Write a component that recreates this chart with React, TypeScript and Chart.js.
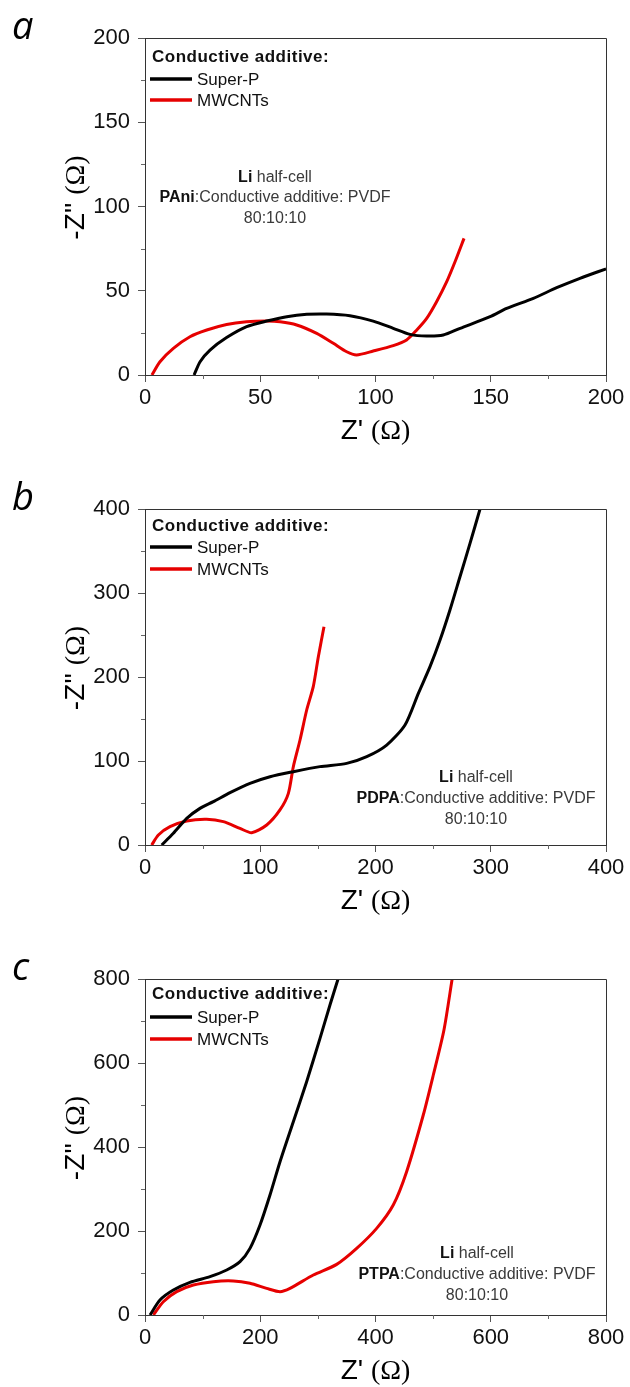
import React, { useEffect, useRef } from "react";
import { Chart, registerables } from "chart.js";
Chart.register(...registerables);

// ---------------- DATA ----------------
// Panel a: PAni
const aTicks = [0, 50, 100, 150, 200];
const aSuperPX = [21.3, 23.9, 28.2, 35.4, 44.1, 52.8, 61.5, 70.2, 78.8, 88.9, 99, 107.7, 115, 122.2, 129.4, 136.7, 149.7, 156.9, 168.5, 178.6, 188.7, 200];
const aSuperPY = [0, 7.9, 14.8, 22.2, 28.7, 32, 34.6, 36, 36.2, 35.2, 32, 27.7, 24.1, 23.1, 23.7, 27.7, 34.6, 39.5, 45.5, 51.8, 57.4, 63];
const aMwcntX = [3, 6.5, 12.3, 19.5, 26.8, 35.4, 44, 52.8, 58.6, 65.8, 74.5, 81.7, 87.5, 91.8, 99, 107.7, 113.5, 117.9, 122.2, 126.5, 130.9, 134.5, 138.4];
const aMwcntY = [0, 7.9, 15.8, 22.7, 26.7, 30, 31.6, 32, 31.6, 29.7, 24.7, 18.8, 13.8, 11.9, 14.2, 17.4, 20.8, 26.7, 33.6, 43.5, 55.4, 67.2, 81.1];

// Panel b: PDPA
const bTicks = [0, 100, 200, 300, 400];
const bSuperPX = [14.5, 24.6, 36.2, 47.7, 59.3, 73.8, 91.1, 108.5, 128.7, 151.8, 175, 192.4, 209.7, 225.6, 237.2, 247.3, 256, 264.6, 273.3, 282, 290.7];
const bSuperPY = [0, 13.9, 31.7, 43.6, 51.6, 62.3, 73.4, 81.3, 87.3, 93.3, 97.2, 105.2, 119, 142.9, 180.6, 212.3, 244, 279.8, 319.4, 359, 400];
const bMwcntX = [5.8, 11.6, 21.7, 36.2, 53.5, 68, 82.4, 92.6, 105.6, 117.1, 124.4, 128.7, 134.5, 140.3, 146, 150.4, 155.3];
const bMwcntY = [0, 11.9, 21.8, 28.6, 30.6, 27.8, 19.8, 14.7, 23.8, 41.7, 61.5, 93.2, 125, 160.7, 188.5, 224.2, 259.9];

// Panel c: PTPA
const cTicks = [0, 200, 400, 600, 800];
const cSuperPX = [8.7, 26, 49.2, 78.1, 112.8, 141.8, 164.9, 182.2, 199.6, 216.9, 234.3, 257.4, 280.5, 303.7, 321, 335];
const cSuperPY = [0, 35.7, 59.5, 77.8, 91.3, 107.1, 127, 158.7, 214.3, 285.7, 365, 460.3, 555.5, 658.7, 738, 800];
const cMwcntX = [14.5, 31.8, 55, 83.9, 118.6, 153.3, 182.2, 211.1, 234.3, 251.6, 292.1, 332.6, 367.3, 402, 430.8, 454, 482.9, 500.3, 518.8, 533];
const cMwcntY = [0, 31.7, 55.6, 71.4, 79.4, 81, 75.4, 63.5, 55.6, 63.5, 95.2, 120.6, 158.7, 206.3, 261.9, 341.3, 476.2, 571.4, 678.6, 800];

const seriesNames = ["Super-P", "MWCNTs"];
const legendTitle = "Conductive additive:";
const polymers = ["PAni", "PDPA", "PTPA"];
const panelLetters = ["a", "b", "c"];
const noteLine1 = ["Li", " half-cell"];
const noteLine2Rest = ":Conductive additive: PVDF";
const noteLine3 = "80:10:10";
const xTitle = ["Z' ", "(\u03A9)"];
const yTitle = ["-Z'' ", "(\u03A9)"];

// ---------------- STYLE ----------------
const SANS = "'Liberation Sans', Arial, sans-serif";
const SERIF = "'Liberation Serif', 'Times New Roman', serif";
const BLACK = "#000000";
const RED = "#e60000";

type PanelCfg = {
  letter: string;
  polymer: string;
  top: number;
  height: number;
  padTop: number;
  xAxisH: number;
  ticks: number[];
  sx: number[];
  sy: number[];
  mx: number[];
  my: number[];
  legendOff: number[];
  noteCx: number;
  noteOff: number[];
};

const zip = (xs: number[], ys: number[]) => xs.map((x, i) => ({ x, y: ys[i] }));

function drawMixed(ctx: CanvasRenderingContext2D, parts: [string, string, string][], x: number, y: number, align: "center" | "left") {
  let total = 0;
  const widths = parts.map(([t, f]) => {
    ctx.font = f;
    const w = ctx.measureText(t).width;
    total += w;
    return w;
  });
  let cx = align === "center" ? x - total / 2 : x;
  ctx.textAlign = "left";
  ctx.textBaseline = "alphabetic";
  parts.forEach(([t, f, c], i) => {
    ctx.font = f;
    ctx.fillStyle = c;
    ctx.fillText(t, cx, y);
    cx += widths[i];
  });
}

const decorPlugin = {
  id: "decor",
  afterDraw(chart: any) {
    const cfg: PanelCfg = chart.options.plugins.decor.cfg;
    const ctx: CanvasRenderingContext2D = chart.ctx;
    const { left, right, top, bottom } = chart.chartArea;
    const xs = chart.scales.x;
    const ys = chart.scales.y;
    ctx.save();
    // frame
    ctx.strokeStyle = "#333";
    ctx.lineWidth = 1;
    ctx.beginPath();
    ctx.moveTo(Math.round(left), Math.round(top) + 0.5);
    ctx.lineTo(Math.round(right) + 0.5, Math.round(top) + 0.5);
    ctx.lineTo(Math.round(right) + 0.5, Math.round(bottom));
    ctx.stroke();
    // minor ticks
    const t = cfg.ticks;
    const step = t[1] - t[0];
    ctx.strokeStyle = "#666";
    ctx.beginPath();
    for (let v = t[0] + step / 2; v < t[t.length - 1]; v += step) {
      const px = Math.round(xs.getPixelForValue(v)) + 0.5;
      ctx.moveTo(px, bottom);
      ctx.lineTo(px, bottom + 4);
      const py = Math.round(ys.getPixelForValue(v)) + 0.5;
      ctx.moveTo(left, py);
      ctx.lineTo(left - 4, py);
    }
    ctx.stroke();
    // panel letter
    ctx.fillStyle = "#000";
    ctx.font = `italic 38px 'Open Sans', sans-serif`;
    ctx.textAlign = "left";
    ctx.textBaseline = "alphabetic";
    ctx.fillText(cfg.letter, 12, top + 1);
    // axis titles
    drawMixed(ctx, [[xTitle[0], `28px ${SANS}`, "#000"], [xTitle[1], `28px ${SERIF}`, "#000"]], (left + right) / 2, bottom + 64, "center");
    ctx.save();
    ctx.translate(84, (top + bottom) / 2 - 9);
    ctx.rotate(-Math.PI / 2);
    drawMixed(ctx, [[yTitle[0], `28px ${SANS}`, "#000"], [yTitle[1], `28px ${SERIF}`, "#000"]], 0, 0, "center");
    ctx.restore();
    // legend
    const lo = cfg.legendOff;
    ctx.fillStyle = "#111";
    ctx.font = `bold 17px ${SANS}`;
    (ctx as any).letterSpacing = "0.5px";
    ctx.fillText(legendTitle, left + 7, top + lo[0]);
    (ctx as any).letterSpacing = "0px";
    const cols = [BLACK, RED];
    [lo[1], lo[2]].forEach((off, i) => {
      ctx.strokeStyle = cols[i];
      ctx.lineWidth = 3.5;
      ctx.beginPath();
      ctx.moveTo(left + 5, top + off);
      ctx.lineTo(left + 47, top + off);
      ctx.stroke();
      ctx.fillStyle = "#111";
      ctx.font = `17px ${SANS}`;
      ctx.fillText(seriesNames[i], left + 52, top + off + 6);
    });
    // note
    const no = cfg.noteOff;
    const grey = "#3a3a3a";
    drawMixed(ctx, [[noteLine1[0], `bold 16px ${SANS}`, "#111"], [noteLine1[1], `16px ${SANS}`, grey]], cfg.noteCx, top + no[0], "center");
    drawMixed(ctx, [[cfg.polymer, `bold 16px ${SANS}`, "#111"], [noteLine2Rest, `16px ${SANS}`, grey]], cfg.noteCx, top + no[1], "center");
    drawMixed(ctx, [[noteLine3, `16px ${SANS}`, grey]], cfg.noteCx, top + no[2], "center");
    ctx.restore();
  },
};

function Panel({ cfg }: { cfg: PanelCfg }) {
  const ref = useRef<HTMLCanvasElement | null>(null);
  useEffect(() => {
    if (!ref.current) return;
    const t = cfg.ticks;
    const step = t[1] - t[0];
    const chart = new Chart(ref.current, {
      type: "scatter",
      data: {
        datasets: [
          { label: seriesNames[0], data: zip(cfg.sx, cfg.sy), showLine: true, borderColor: BLACK, backgroundColor: BLACK, borderWidth: 3, pointRadius: 0, tension: 0.25 },
          { label: seriesNames[1], data: zip(cfg.mx, cfg.my), showLine: true, borderColor: RED, backgroundColor: RED, borderWidth: 3, pointRadius: 0, tension: 0.25 },
        ],
      },
      options: {
        responsive: false,
        maintainAspectRatio: false,
        animation: false,
        layout: { padding: { top: cfg.padTop, right: 24, left: 0, bottom: 0 } },
        plugins: {
          legend: { display: false },
          tooltip: { enabled: false },
          decor: { cfg },
        } as any,
        scales: {
          x: {
            type: "linear",
            min: t[0],
            max: t[t.length - 1],
            grid: { drawOnChartArea: false, drawTicks: true, tickLength: 7, color: "#555", tickColor: "#555" },
            border: { display: true, color: "#333", width: 1 },
            ticks: { stepSize: step, color: "#111", font: { family: SANS, size: 22 }, padding: 3, maxRotation: 0 },
            afterFit: (s: any) => { s.height = cfg.xAxisH; },
          },
          y: {
            type: "linear",
            min: t[0],
            max: t[t.length - 1],
            grid: { drawOnChartArea: false, drawTicks: true, tickLength: 7, color: "#555", tickColor: "#555" },
            border: { display: true, color: "#333", width: 1 },
            ticks: { stepSize: step, color: "#111", font: { family: SANS, size: 22 }, padding: 8 },
            afterFit: (s: any) => { s.width = 145; },
          },
        },
      },
      plugins: [decorPlugin],
    } as any);
    return () => chart.destroy();
  }, [cfg]);
  return (
    <canvas
      ref={ref}
      width={630}
      height={cfg.height}
      style={{ position: "absolute", left: 0, top: cfg.top, width: 630, height: cfg.height, display: "block" }}
    />
  );
}

const panels: PanelCfg[] = [
  { letter: panelLetters[0], polymer: polymers[0], top: 0, height: 465, padTop: 38, xAxisH: 90, ticks: aTicks, sx: aSuperPX, sy: aSuperPY, mx: aMwcntX, my: aMwcntY, legendOff: [24, 41, 62], noteCx: 275, noteOff: [144, 164, 185] },
  { letter: panelLetters[1], polymer: polymers[1], top: 465, height: 465, padTop: 44, xAxisH: 85, ticks: bTicks, sx: bSuperPX, sy: bSuperPY, mx: bMwcntX, my: bMwcntY, legendOff: [22, 38, 60], noteCx: 476, noteOff: [273, 294, 315] },
  { letter: panelLetters[2], polymer: polymers[2], top: 930, height: 457, padTop: 49, xAxisH: 72, ticks: cTicks, sx: cSuperPX, sy: cSuperPY, mx: cMwcntX, my: cMwcntY, legendOff: [20, 38, 60], noteCx: 477, noteOff: [279, 300, 321] },
];

export default function App() {
  return (
    <div style={{ position: "absolute", left: 0, top: 0, width: 630, height: 1387, background: "#fff", overflow: "hidden" }}>
      {panels.map((p, i) => (
        <Panel key={i} cfg={p} />
      ))}
    </div>
  );
}
